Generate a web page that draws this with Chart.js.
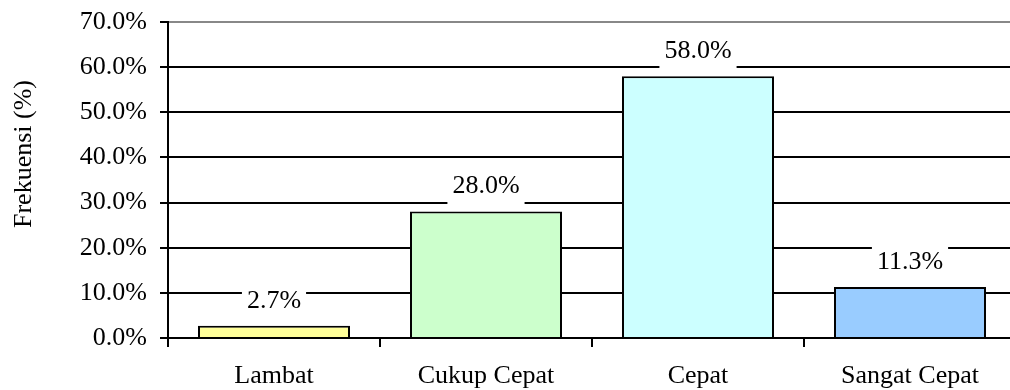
<!DOCTYPE html>
<html>
<head>
<meta charset="utf-8">
<script src="https://cdn.jsdelivr.net/npm/chart.js@4/dist/chart.umd.min.js"></script>
<style>
  html, body { margin: 0; padding: 0; background: #fff; overflow: hidden; }
  #wrap { width: 1010px; height: 390px; overflow: hidden; }
  #box { width: 1016px; height: 390px; }
</style>
</head>
<body>
<div id="wrap"><div id="box"><canvas id="chart"></canvas></div></div>
<script>
  var categories = ['Lambat', 'Cukup Cepat', 'Cepat', 'Sangat Cepat'];
  var frekuensi = [2.7, 28.0, 58.0, 11.3];
  var barColors = ['#FFFF99', '#CCFFCC', '#CCFFFF', '#99CCFF'];
  var yTicks = [0, 10, 20, 30, 40, 50, 60, 70];
  var yTitle = 'Frekuensi (%)';

  var fontFamily = '"Liberation Serif", "Times New Roman", serif';
  var fontSize = 26;

  // value labels on white boxes above each bar + axis title
  var valueLabels = {
    id: 'valueLabels',
    afterDatasetsDraw: function (chart) {
      var ctx = chart.ctx;
      var meta = chart.getDatasetMeta(0);
      ctx.save();
      ctx.font = fontSize + 'px ' + fontFamily;
      ctx.textAlign = 'center';
      ctx.textBaseline = 'middle';
      meta.data.forEach(function (bar, i) {
        var txt = frekuensi[i].toFixed(1) + '%';
        var w = ctx.measureText(txt).width + 10;
        var cy = bar.y - 25;
        ctx.fillStyle = '#fff';
        ctx.fillRect(bar.x - w / 2, cy - 17, w, 36);
        ctx.fillStyle = '#000';
        ctx.fillText(txt, bar.x, cy);
      });

      // y title, rotated
      ctx.translate(24, 154);
      ctx.rotate(-Math.PI / 2);
      ctx.fillText(yTitle, 0, 0);
      ctx.restore();
    }
  };

  var ctx = document.getElementById('chart').getContext('2d');
  new Chart(ctx, {
    type: 'bar',
    data: {
      labels: categories,
      datasets: [{
        data: frekuensi,
        backgroundColor: barColors,
        borderColor: '#000',
        borderWidth: 2,
        categoryPercentage: 1,
        barPercentage: 0.717
      }]
    },
    options: {
      responsive: true,
      maintainAspectRatio: false,
      animation: false,
      layout: { padding: { top: 22, left: 0, right: 0, bottom: 0 } },
      plugins: {
        legend: { display: false },
        tooltip: { enabled: false }
      },
      scales: {
        x: {
          grid: {
            offset: true,
            drawOnChartArea: false,
            drawTicks: true,
            tickLength: 9,
            color: '#000',
            lineWidth: 2
          },
          border: { display: true, color: '#000', width: 2 },
          ticks: {
            color: '#000',
            font: { family: fontFamily, size: fontSize },
            padding: 14,
            maxRotation: 0
          },
          afterFit: function (scale) {
            scale.height = 52;
            scale.paddingLeft = 0;
            scale.paddingRight = 0;
          }
        },
        y: {
          min: 0,
          max: 70,
          afterBuildTicks: function (scale) {
            scale.ticks = yTicks.map(function (v) { return { value: v }; });
          },
          grid: {
            color: function (c) { return c.tick && c.tick.value === 70 ? '#888' : '#000'; },
            lineWidth: 2,
            tickLength: 8,
            tickColor: '#000'
          },
          border: { display: true, color: '#000', width: 2 },
          ticks: {
            color: '#000',
            font: { family: fontFamily, size: fontSize },
            padding: 13,
            callback: function (v) { return v.toFixed(1) + '%'; }
          },
          afterFit: function (scale) {
            scale.width = 168;
            scale.paddingTop = 0;
            scale.paddingBottom = 0;
          }
        }
      }
    },
    plugins: [valueLabels]
  });
</script>
</body>
</html>
